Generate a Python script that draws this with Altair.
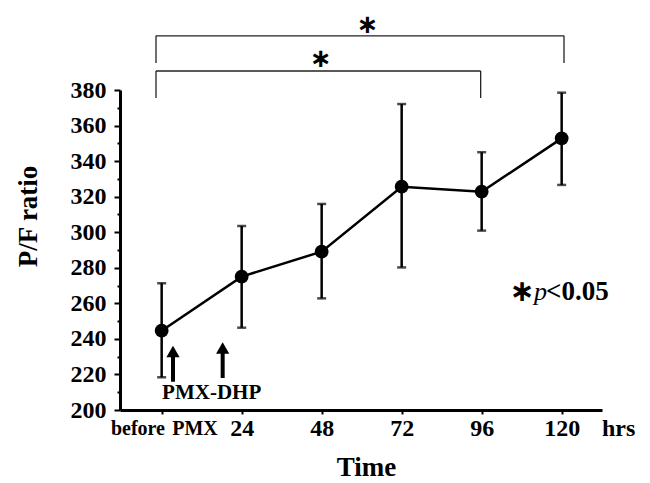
import altair as alt
import pandas as pd

# ---- data ----
times = [0, 24, 48, 72, 96, 120]
pf_mean = [244.6, 275.0, 289.1, 325.6, 322.8, 352.8]
pf_upper = [271.3, 303.5, 315.9, 372.1, 345.0, 378.5]
pf_lower = [218.4, 246.3, 262.8, 280.2, 300.9, 326.6]

x_ticks = [0, 24, 48, 72, 96, 120]
y_ticks = list(range(200, 381, 10))

# significance brackets: left x, right x, top y, leg bottom y
br_left = [-1.7, -1.7]
br_right = [120.7, 95.7]
br_top = [410.5, 390.7]
br_bottom = [395.2, 375.5]
star_x = [61.8, 47.8]
star_y = [416.6, 397.6]

# PMX-DHP arrows
arrow_x = [3.4, 18.3]
arrow_top = [236.6, 238.5]
arrow_bottom = [215.9, 218.0]

FONT = "Liberation Serif"

df = pd.DataFrame({"t": times, "m": pf_mean, "lo": pf_lower, "hi": pf_upper})

xscale = alt.Scale(domain=[-12.5, 132.1], nice=False, zero=False)
yscale = alt.Scale(domain=[200, 380], nice=False, zero=False)

xaxis = alt.Axis(
    values=x_ticks,
    labelExpr="datum.value == 0 ? '' : datum.label",
    title="Time",
    titleFont=FONT, titleFontSize=27, titleFontWeight="bold", titleColor="black",
    titleX=246, titleY=57, titleBaseline="middle", titleAlign="center",
    labelFont=FONT, labelFontSize=24, labelFontWeight="bold", labelColor="black",
    labelPadding=2, tickSize=4, tickWidth=2, tickColor="black",
    domainColor="black", domainWidth=3, grid=False,
)
yaxis = alt.Axis(
    values=y_ticks,
    labelExpr="datum.value % 20 == 0 ? datum.label : ''",
    title="P/F ratio",
    titleFont=FONT, titleFontSize=27, titleFontWeight="bold", titleColor="black",
    titleX=-92, titleY=126, titleBaseline="middle", titleAlign="center", titleAngle=270,
    labelFont=FONT, labelFontSize=24, labelFontWeight="bold", labelColor="black",
    labelPadding=8,
    tickSize={"condition": {"test": "datum.value % 20 == 0", "value": 6}, "value": 3},
    tickWidth=2, tickColor="black",
    domainColor="black", domainWidth=3, grid=False,
)


def X(f):
    return alt.X(f, scale=xscale, axis=xaxis)


def Y(f):
    return alt.Y(f, scale=yscale, axis=yaxis)


base = alt.Chart(df)

line = base.mark_line(color="black", strokeWidth=2.5).encode(x=X("t:Q"), y=Y("m:Q"))
err = base.mark_rule(color="black", strokeWidth=2.5).encode(x=X("t:Q"), y=Y("lo:Q"), y2="hi:Q")
cap_hi = base.mark_tick(color="black", orient="horizontal", size=9, thickness=2.5).encode(
    x=X("t:Q"), y=Y("hi:Q"))
cap_lo = base.mark_tick(color="black", orient="horizontal", size=9, thickness=2.5).encode(
    x=X("t:Q"), y=Y("lo:Q"))
pts = base.mark_circle(color="black", opacity=1, size=190).encode(x=X("t:Q"), y=Y("m:Q"))

# brackets
segs = []
for l, r, t, b in zip(br_left, br_right, br_top, br_bottom):
    segs.append({"x": l, "x2": r, "y": t, "y2": t})
    segs.append({"x": l, "x2": l, "y": b, "y2": t})
    segs.append({"x": r, "x2": r, "y": b, "y2": t})
brackets = alt.Chart(pd.DataFrame(segs)).mark_rule(color="#222222", strokeWidth=1.3).encode(
    x=X("x:Q"), x2="x2:Q", y=Y("y:Q"), y2="y2:Q",
)
stars = alt.Chart(pd.DataFrame({"x": star_x, "y": star_y, "s": ["∗", "∗"]})).mark_text(
    font="DejaVu Sans", fontSize=26, fontWeight="bold", color="black", baseline="middle", align="center"
).encode(x=X("x:Q"), y=Y("y:Q"), text="s:N")

# arrows
adf = pd.DataFrame({"x": arrow_x, "top": arrow_top, "bot": arrow_bottom})
shaft = alt.Chart(adf).transform_calculate(head="datum.top - 6").mark_rule(
    color="black", strokeWidth=4
).encode(x=X("x:Q"), y=Y("bot:Q"), y2="head:Q")
heads = alt.Chart(adf).transform_calculate(hc="datum.top - 3.66").mark_point(
    shape="triangle-up", filled=True, color="black", opacity=1, size=175
).encode(x=X("x:Q"), y=Y("hc:Q"))

# text annotations
ann_text = ["PMX-DHP", "hrs", "before", "PMX"]
ann_x = [15.0, 132.1, 0, 0]
ann_y = [209.4, 189.3, 189.3, 189.3]
ann_dx = [0, 0, -23.7, 33.3]
ann_size = [21, 24, 20, 20]
ann_align = ["center", "left", "center", "center"]
texts = []
for t, x, y, dx, s, a in zip(ann_text, ann_x, ann_y, ann_dx, ann_size, ann_align):
    texts.append(
        alt.Chart(pd.DataFrame({"x": [x], "y": [y], "s": [t]})).mark_text(
            font=FONT, fontSize=s, fontWeight="bold", color="black",
            baseline="middle", align=a, dx=dx
        ).encode(x=X("x:Q"), y=Y("y:Q"), text="s:N")
    )

# *p<0.05
p_df = pd.DataFrame({"x": [108.1], "y": [266.4]})
p_star = alt.Chart(p_df).transform_calculate(s="'∗'").mark_text(
    font="DejaVu Sans", fontSize=30, fontWeight="bold", color="black", baseline="middle", align="center"
).encode(x=X("x:Q"), y=Y("y:Q"), text="s:N")
p_p = alt.Chart(p_df).transform_calculate(s="'p'").mark_text(
    font=FONT, fontSize=26, fontStyle="italic", fontWeight="normal", color="black",
    baseline="middle", align="left", dx=12
).encode(x=X("x:Q"), y=Y("y:Q"), text="s:N")
p_val = alt.Chart(p_df).transform_calculate(s="'<0.05'").mark_text(
    font=FONT, fontSize=27, fontWeight="bold", color="black", baseline="middle", align="left", dx=24
).encode(x=X("x:Q"), y=Y("y:Q"), text="s:N")

chart = alt.layer(
    line, err, cap_hi, cap_lo, pts, brackets, stars, shaft, heads, *texts, p_star, p_p, p_val
).properties(
    width=482, height=320,
    autosize=alt.AutoSizeParams(type="none"),
    padding={"left": 112, "top": 82, "right": 40, "bottom": 73},
    background="white",
).configure_view(stroke=None)

chart.save("out.html", embed_options={"renderer": "svg", "actions": False})
